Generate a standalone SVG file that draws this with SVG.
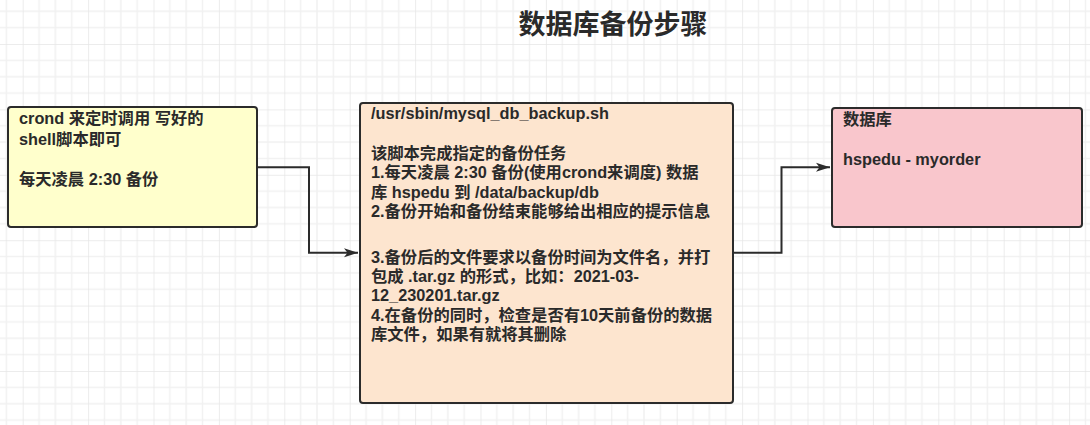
<svg xmlns="http://www.w3.org/2000/svg" width="1090" height="425" viewBox="0 0 1090 425">
<style>
.t{font-family:"Liberation Sans","Noto Sans CJK SC",sans-serif;font-weight:bold;font-size:16.3px;fill:#2a2a2a}
.title{font-family:"Noto Sans CJK SC",sans-serif;font-weight:bold;font-size:27px;fill:#2a2a2a}
.box{stroke:#2b2b2b;stroke-width:2}
.conn{fill:none;stroke:#2b2b2b;stroke-width:2}
</style>
<defs>
<pattern id="grid" patternUnits="userSpaceOnUse" x="22.7" y="44" width="65.4" height="65.4">
<path d="M16.35 0V65.4M32.7 0V65.4M49.05 0V65.4M0 16.35H65.4M0 32.7H65.4M0 49.05H65.4" stroke="#f1f1f1" stroke-width="1.5" fill="none"/>
<path d="M0 0V65.4M0 0H65.4" stroke="#e6e6e6" stroke-width="1.5" fill="none"/>
</pattern>
<marker id="arr" markerWidth="15" markerHeight="11" refX="14" refY="5.5" orient="auto" markerUnits="userSpaceOnUse">
<path d="M0 1 L14 5.5 L0 10 L3.5 5.5 Z" fill="#2b2b2b"/>
</marker>
</defs>
<rect width="1090" height="425" fill="#ffffff"/>
<rect width="1090" height="425" fill="url(#grid)"/>
<text class="title" x="613" y="34" text-anchor="middle">数据库备份步骤</text>
<g id="conns">
<path class="conn" d="M257 167.3H309V252.8H358" marker-end="url(#arr)"/>
<path class="conn" d="M733 252.8H781.5V167.3H830" marker-end="url(#arr)"/>
</g>
<g id="crond">
<rect class="box" x="8" y="107" width="249" height="120" rx="3" fill="#ffffcc"/>
<text class="t"><tspan x="19" y="124">crond 来定时调用 写好的</tspan><tspan x="19" y="144.5">shell脚本即可</tspan><tspan x="19" y="184.5">每天凌晨 2:30 备份</tspan></text>
</g>
<g id="script">
<rect class="box" x="360" y="103" width="373" height="300" rx="3" fill="#fde5cf"/>
<text class="t"><tspan x="371" y="119">/usr/sbin/mysql_db_backup.sh</tspan><tspan x="371" y="159">该脚本完成指定的备份任务</tspan><tspan x="371" y="178.4">1.每天凌晨 2:30 备份(使用crond来调度) 数据</tspan><tspan x="371" y="197.8">库 hspedu 到 /data/backup/db</tspan><tspan x="371" y="217.2">2.备份开始和备份结束能够给出相应的提示信息</tspan><tspan x="371" y="262.5">3.备份后的文件要求以备份时间为文件名，并打</tspan><tspan x="371" y="281.9">包成 .tar.gz 的形式，比如：2021-03-</tspan><tspan x="371" y="301.3">12_230201.tar.gz</tspan><tspan x="371" y="320.7">4.在备份的同时，检查是否有10天前备份的数据</tspan><tspan x="371" y="340.1">库文件，如果有就将其删除</tspan></text>
</g>
<g id="db">
<rect class="box" x="832" y="108" width="250" height="119" rx="3" fill="#f9c6cc"/>
<text class="t"><tspan x="843" y="125">数据库</tspan><tspan x="843" y="164.5">hspedu - myorder</tspan></text>
</g>
</svg>
